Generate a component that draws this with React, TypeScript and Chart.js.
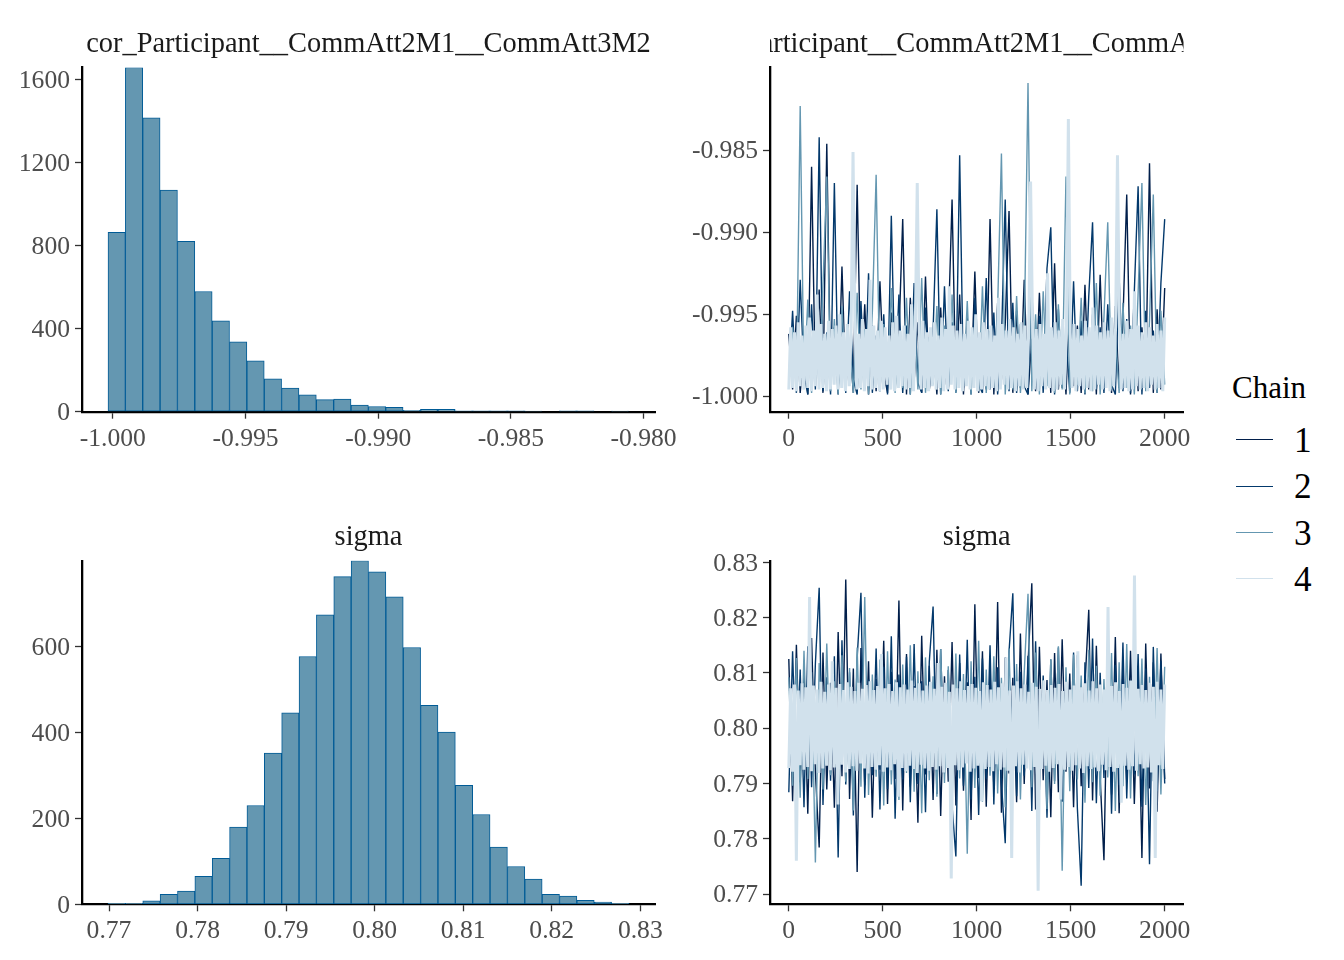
import React, { useEffect, useRef } from "react";
import { Chart, registerables } from "chart.js";

Chart.register(...registerables);

const FONT = "'Liberation Serif', 'Times New Roman', Times, serif";

// ---------- text ----------
const corTitle = "cor_Participant__CommAtt2M1__CommAtt3M2";
const sigmaTitle = "sigma";
const legendTitle = "Chain";
const chainLabels = ["1", "2", "3", "4"];
const chainColors = ["#011f4b", "#03396c", "#6497b1", "#d1e1ec"];

// ---------- histogram of cor ----------
const corBinStart = -1.00018;
const corBinWidth = 0.000654;
const corCounts = [864, 1658, 1416, 1068, 821, 579, 438, 337, 245, 158, 114, 81, 58, 61, 32, 25, 21, 6, 11, 11, 4, 4, 4, 4, 3, 0, 4, 4, 0, 3];
const corHistTicksX = [-1.0, -0.995, -0.99, -0.985, -0.98];
const corHistTicksY = [0, 400, 800, 1200, 1600];

// ---------- histogram of sigma ----------
const sigmaBinStart = 0.76989;
const sigmaBinWidth = 0.001961;
const sigmaCounts = [2, 2, 8, 23, 31, 65, 107, 180, 230, 352, 446, 577, 674, 763, 800, 774, 716, 598, 463, 401, 277, 209, 133, 88, 59, 23, 19, 9, 5, 2];
const sigmaHistTicksX = [0.77, 0.78, 0.79, 0.8, 0.81, 0.82, 0.83];
const sigmaHistTicksY = [0, 200, 400, 600];

// ---------- trace plots (thinned draws over iterations 1..2000) ----------
const traceTicksX = [0, 500, 1000, 1500, 2000];
const corTraceTicksY = [-1.0, -0.995, -0.99, -0.985];
const sigmaTraceTicksY = [0.77, 0.78, 0.79, 0.8, 0.81, 0.82, 0.83];

const corChain1 = [
  -0.9962, -0.9996, -0.9951, -0.9998, -0.9971, -0.9999, -0.9860, -0.9994, -0.9935, -0.9998,
  -0.9846, -0.9992, -0.9958, -0.9999, -0.9921, -0.9995, -0.9966, -0.9998, -0.9871, -0.9993,
  -0.9944, -0.9999, -0.9957, -0.9997, -0.9930, -0.9986, -0.9998, -0.9949, -0.9995, -0.9963,
  -0.9892, -0.9999, -0.9940, -0.9991, -0.9955, -0.9998, -0.9927, -0.9996, -0.9968, -0.9999,
  -0.9946, -0.9993, -0.9959, -0.9880, -0.9997, -0.9938, -0.9999, -0.9952, -0.9994, -0.9924,
  -0.9998, -0.9961, -0.9996, -0.9892, -0.9999, -0.9943, -0.9990, -0.9956, -0.9887, -0.9998,
  -0.9948, -0.9995, -0.9929, -0.9999, -0.9965, -0.9997, -0.9937, -0.9992, -0.9953, -0.9998,
  -0.9919, -0.9996, -0.9960, -0.9999, -0.9941, -0.9994, -0.9957, -0.9998, -0.9932, -0.9996,
  -0.9950, -0.9999, -0.9926, -0.9993, -0.9964, -0.9998, -0.9945, -0.9995, -0.9954, -0.9877,
  -0.9999, -0.9939, -0.9997, -0.9958, -0.9991, -0.9858, -0.9998, -0.9947, -0.9996, -0.9934,
];
const corChain2 = [
  -0.9993, -0.9948, -0.9998, -0.9929, -0.9987, -0.9999, -0.9944, -0.9996, -0.9842, -0.9997,
  -0.9961, -0.9999, -0.9870, -0.9995, -0.9952, -0.9998, -0.9936, -0.9990, -0.9999, -0.9942,
  -0.9996, -0.9925, -0.9998, -0.9963, -0.9997, -0.9950, -0.9999, -0.9890, -0.9994, -0.9938,
  -0.9998, -0.9957, -0.9999, -0.9931, -0.9992, -0.9998, -0.9946, -0.9996, -0.9960, -0.9886,
  -0.9999, -0.9933, -0.9997, -0.9955, -0.9998, -0.9853, -0.9995, -0.9962, -0.9999, -0.9940,
  -0.9993, -0.9998, -0.9928, -0.9996, -0.9949, -0.9999, -0.9966, -0.9880, -0.9997, -0.9943,
  -0.9998, -0.9956, -0.9994, -0.9999, -0.9934, -0.9996, -0.9951, -0.9998, -0.9922, -0.9897,
  -0.9999, -0.9947, -0.9995, -0.9962, -0.9998, -0.9930, -0.9997, -0.9954, -0.9999, -0.9939,
  -0.9894, -0.9996, -0.9958, -0.9998, -0.9944, -0.9993, -0.9999, -0.9927, -0.9997, -0.9953,
  -0.9998, -0.9936, -0.9872, -0.9999, -0.9948, -0.9995, -0.9960, -0.9998, -0.9931, -0.9892,
];
const corChain3 = [
  -0.9990, -0.9958, -0.9997, -0.9823, -0.9995, -0.9941, -0.9998, -0.9963, -0.9994, -0.9932,
  -0.9866, -0.9997, -0.9953, -0.9999, -0.9945, -0.9991, -0.9968, -0.9998, -0.9937, -0.9996,
  -0.9959, -0.9999, -0.9949, -0.9865, -0.9997, -0.9956, -0.9993, -0.9934, -0.9998, -0.9962,
  -0.9995, -0.9940, -0.9999, -0.9951, -0.9996, -0.9928, -0.9998, -0.9964, -0.9993, -0.9945,
  -0.9999, -0.9957, -0.9996, -0.9938, -0.9998, -0.9961, -0.9994, -0.9942, -0.9999, -0.9955,
  -0.9997, -0.9933, -0.9998, -0.9960, -0.9995, -0.9946, -0.9852, -0.9999, -0.9958, -0.9996,
  -0.9939, -0.9998, -0.9965, -0.9809, -0.9997, -0.9950, -0.9999, -0.9936, -0.9994, -0.9962,
  -0.9998, -0.9944, -0.9996, -0.9866, -0.9999, -0.9956, -0.9993, -0.9940, -0.9998, -0.9959,
  -0.9997, -0.9931, -0.9999, -0.9952, -0.9894, -0.9996, -0.9963, -0.9998, -0.9943, -0.9995,
  -0.9957, -0.9999, -0.9937, -0.9870, -0.9997, -0.9954, -0.9877, -0.9998, -0.9948, -0.9993,
];
const corChain4 = [
  -0.9996, -0.9958, -0.9995, -0.9961, -0.9997, -0.9955, -0.9994, -0.9963, -0.9996, -0.9957,
  -0.9995, -0.9952, -0.9997, -0.9960, -0.9994, -0.9938, -0.9996, -0.9956, -0.9995, -0.9962,
  -0.9997, -0.9954, -0.9996, -0.9959, -0.9993, -0.9957, -0.9996, -0.9950, -0.9995, -0.9961,
  -0.9997, -0.9956, -0.9994, -0.9958, -0.9851, -0.9955, -0.9996, -0.9962, -0.9995, -0.9953,
  -0.9997, -0.9959, -0.9994, -0.9929, -0.9996, -0.9957, -0.9995, -0.9960, -0.9997, -0.9954,
  -0.9996, -0.9958, -0.9993, -0.9963, -0.9996, -0.9955, -0.9997, -0.9951, -0.9995, -0.9960,
  -0.9994, -0.9957, -0.9996, -0.9962, -0.9995, -0.9944, -0.9997, -0.9956, -0.9870, -0.9959,
  -0.9996, -0.9954, -0.9995, -0.9961, -0.9997, -0.9958, -0.9994, -0.9955, -0.9996, -0.9963,
  -0.9995, -0.9952, -0.9997, -0.9959, -0.9996, -0.9933, -0.9993, -0.9957, -0.9996, -0.9960,
  -0.9995, -0.9956, -0.9997, -0.9962, -0.9994, -0.9954, -0.9996, -0.9958, -0.9995, -0.9950,
  -0.9997, -0.9961, -0.9996, -0.9955, -0.9994, -0.9959, -0.9996, -0.9957, -0.9995, -0.9963,
  -0.9997, -0.9940, -0.9996, -0.9956, -0.9993, -0.9960, -0.9996, -0.9953, -0.9995, -0.9958,
  -0.9997, -0.9962, -0.9994, -0.9955, -0.9996, -0.9957, -0.9995, -0.9961, -0.9869, -0.9954,
  -0.9996, -0.9959, -0.9997, -0.9956, -0.9994, -0.9962, -0.9996, -0.9925, -0.9995, -0.9958,
  -0.9997, -0.9955, -0.9996, -0.9960, -0.9993, -0.9953, -0.9996, -0.9957, -0.9831, -0.9961,
  -0.9995, -0.9956, -0.9997, -0.9959, -0.9994, -0.9963, -0.9996, -0.9954, -0.9995, -0.9958,
  -0.9997, -0.9946, -0.9996, -0.9957, -0.9993, -0.9961, -0.9996, -0.9955, -0.9995, -0.9960,
  -0.9997, -0.9952, -0.9994, -0.9958, -0.9853, -0.9956, -0.9996, -0.9962, -0.9995, -0.9954,
  -0.9997, -0.9959, -0.9996, -0.9936, -0.9994, -0.9957, -0.9996, -0.9961, -0.9995, -0.9955,
  -0.9997, -0.9958, -0.9993, -0.9963, -0.9996, -0.9956, -0.9995, -0.9960, -0.9997, -0.9952,
];

const sigmaChain1 = [
  0.8125, 0.7868, 0.8151, 0.7902, 0.8098, 0.7845, 0.8163, 0.7921, 0.7784, 0.8137,
  0.7889, 0.8082, 0.7856, 0.8174, 0.7913, 0.8269, 0.7872, 0.8108, 0.7740, 0.8145,
  0.7897, 0.8121, 0.7838, 0.8089, 0.7925, 0.8158, 0.7863, 0.8102, 0.7908, 0.8231,
  0.7851, 0.8134, 0.7894, 0.8076, 0.7829, 0.8167, 0.7916, 0.8113, 0.7870, 0.8142,
  0.7841, 0.8094, 0.7903, 0.8156, 0.7860, 0.8118, 0.7887, 0.8083, 0.7834, 0.8224,
  0.7910, 0.8139, 0.7858, 0.8104, 0.7893, 0.8228, 0.7847, 0.8128, 0.7918, 0.8091,
  0.7866, 0.8171, 0.7899, 0.8115, 0.8262, 0.7853, 0.8147, 0.7906, 0.8087, 0.7839,
  0.8136, 0.7884, 0.8161, 0.7921, 0.8099, 0.7857, 0.8132, 0.7895, 0.8078, 0.8214,
  0.7869, 0.8149, 0.7911, 0.7761, 0.8123, 0.7880, 0.8165, 0.7846, 0.8107, 0.7902,
  0.8140, 0.7863, 0.8096, 0.7765, 0.8153, 0.7891, 0.8119, 0.7849, 0.8135, 0.7908,
];
const sigmaChain2 = [
  0.7884, 0.8139, 0.7912, 0.8106, 0.7857, 0.8148, 0.7893, 0.8117, 0.8254, 0.7861,
  0.8092, 0.7905, 0.8130, 0.7766, 0.8159, 0.7898, 0.8101, 0.7842, 0.8127, 0.8245,
  0.7874, 0.8088, 0.7915, 0.8144, 0.7853, 0.8111, 0.7890, 0.8166, 0.7836, 0.8097,
  0.7907, 0.8129, 0.7866, 0.8152, 0.7899, 0.8085, 0.7848, 0.8120, 0.8220, 0.7881,
  0.8143, 0.7918, 0.8105, 0.7859, 0.7768, 0.8133, 0.7896, 0.8160, 0.7871, 0.8093,
  0.7843, 0.8126, 0.7909, 0.8150, 0.7862, 0.8110, 0.7901, 0.7792, 0.8138, 0.8244,
  0.7877, 0.8102, 0.7914, 0.8131, 0.7850, 0.8157, 0.7888, 0.8095, 0.7838, 0.8124,
  0.7904, 0.8146, 0.7867, 0.8090, 0.7920, 0.8137, 0.7855, 0.7715, 0.8119, 0.7892,
  0.8162, 0.7864, 0.8100, 0.7910, 0.8141, 0.7845, 0.8114, 0.7897, 0.8155, 0.7873,
  0.8086, 0.7916, 0.8134, 0.7858, 0.8108, 0.7754, 0.8147, 0.7886, 0.8122, 0.7900,
];
const sigmaChain3 = [
  0.8092, 0.7896, 0.8127, 0.7874, 0.8140, 0.7908, 0.8101, 0.7757, 0.8118, 0.7889,
  0.8153, 0.7915, 0.8085, 0.7868, 0.8132, 0.7903, 0.8109, 0.7851, 0.8146, 0.7894,
  0.8237, 0.7879, 0.8097, 0.7912, 0.8124, 0.7860, 0.8139, 0.7898, 0.8088, 0.7870,
  0.8115, 0.7919, 0.8150, 0.7885, 0.8103, 0.7846, 0.8128, 0.7906, 0.8094, 0.7876,
  0.8143, 0.7901, 0.8112, 0.7863, 0.8135, 0.7909, 0.8098, 0.7773, 0.8121, 0.7892,
  0.8158, 0.7867, 0.8106, 0.7914, 0.8130, 0.7882, 0.8091, 0.7857, 0.8144, 0.7905,
  0.8116, 0.7871, 0.8100, 0.8243, 0.7893, 0.8137, 0.7917, 0.8087, 0.7854, 0.8125,
  0.7899, 0.8148, 0.7742, 0.8110, 0.7886, 0.8133, 0.7907, 0.8095, 0.7865, 0.8142,
  0.7902, 0.8113, 0.7878, 0.8089, 0.7911, 0.8136, 0.7850, 0.8119, 0.7895, 0.8152,
  0.7873, 0.8104, 0.7913, 0.8126, 0.7861, 0.8093, 0.7904, 0.8145, 0.7880, 0.8111,
];
const sigmaChain4 = [
  0.7928, 0.8072, 0.7921, 0.8079, 0.7760, 0.8068, 0.7933, 0.8081, 0.7925, 0.8074,
  0.7930, 0.8237, 0.7922, 0.8077, 0.7935, 0.8070, 0.7919, 0.8084, 0.7927, 0.8066,
  0.7932, 0.8079, 0.7924, 0.8121, 0.7929, 0.8073, 0.7862, 0.8080, 0.7934, 0.8069,
  0.7920, 0.8083, 0.7926, 0.8075, 0.7931, 0.8067, 0.7923, 0.8082, 0.7936, 0.8071,
  0.7927, 0.8078, 0.7918, 0.8085, 0.7930, 0.8069, 0.7925, 0.8076, 0.7933, 0.8134,
  0.7921, 0.8072, 0.7929, 0.8080, 0.7924, 0.8067, 0.7935, 0.8083, 0.7876, 0.8074,
  0.7928, 0.8079, 0.7922, 0.8070, 0.7932, 0.8086, 0.7926, 0.8073, 0.7919, 0.8081,
  0.7934, 0.8068, 0.7927, 0.8077, 0.7923, 0.8084, 0.7930, 0.8071, 0.7925, 0.8118,
  0.7931, 0.8075, 0.7920, 0.8082, 0.7928, 0.8066, 0.7728, 0.8079, 0.7933, 0.8072,
  0.7924, 0.8085, 0.7929, 0.8069, 0.7936, 0.8076, 0.7921, 0.8080, 0.7927, 0.8073,
  0.7932, 0.8067, 0.7868, 0.8083, 0.7926, 0.8078, 0.7930, 0.8070, 0.7922, 0.8084,
  0.7935, 0.8074, 0.7925, 0.8081, 0.7929, 0.8128, 0.7923, 0.8068, 0.7765, 0.8077,
  0.7931, 0.8085, 0.7920, 0.8072, 0.7934, 0.8079, 0.7927, 0.8066, 0.7924, 0.8082,
  0.7930, 0.8075, 0.7706, 0.8071, 0.7926, 0.8086, 0.7932, 0.8069, 0.7921, 0.8078,
  0.7928, 0.8073, 0.7935, 0.8080, 0.7871, 0.8067, 0.7925, 0.8084, 0.7930, 0.8070,
  0.7923, 0.8077, 0.7933, 0.8139, 0.7927, 0.8074, 0.7919, 0.8081, 0.7931, 0.8068,
  0.7926, 0.8085, 0.7929, 0.8072, 0.7922, 0.8079, 0.7934, 0.8070, 0.7924, 0.8219,
  0.7930, 0.8076, 0.7921, 0.8083, 0.7928, 0.8067, 0.7865, 0.8080, 0.7932, 0.8073,
  0.7925, 0.8086, 0.7931, 0.8276, 0.7923, 0.8071, 0.7935, 0.8078, 0.7927, 0.8069,
  0.7929, 0.8082, 0.7920, 0.8075, 0.7765, 0.8084, 0.7933, 0.8070, 0.7926, 0.8079,
];

const firstIteration = 1;
const lastIteration = 2000;

const corChains = [corChain1, corChain2, corChain3, corChain4];
const sigmaChains = [sigmaChain1, sigmaChain2, sigmaChain3, sigmaChain4];
const chainLineWidths = [1.4, 1.4, 1.4, 3.0];

// ---------- helpers ----------
const TICK_FONT = { family: FONT, size: 25.6 };

function makeAxis(o: {
  min: number;
  max: number;
  ticks: number[];
  fmt: (v: number) => string;
  size: number;
  isX: boolean;
}) {
  return {
    type: "linear" as const,
    min: o.min,
    max: o.max,
    offset: false,
    afterBuildTicks: (s: any) => {
      s.ticks = o.ticks.map((v) => ({ value: v }));
    },
    afterFit: (s: any) => {
      if (o.isX) s.height = o.size;
      else s.width = o.size;
    },
    grid: {
      display: true,
      offset: false,
      drawOnChartArea: false,
      drawTicks: true,
      tickLength: 7,
      tickWidth: 1.3,
      tickColor: "#333333",
      color: "#333333",
    },
    border: { display: true, color: "#000000", width: 2.3 },
    ticks: {
      color: "#4d4d4d",
      font: TICK_FONT,
      padding: 5,
      labelOffset: o.isX ? 0 : 1.5,
      maxRotation: 0,
      minRotation: 0,
      autoSkip: false,
      callback: (v: any) => o.fmt(Number(v)),
    },
  };
}

function stripTitle(text: string, baseline: number) {
  return {
    id: "stripTitle",
    afterDraw(chart: any) {
      const { ctx, chartArea } = chart;
      ctx.save();
      ctx.beginPath();
      ctx.rect(chartArea.left, 0, chartArea.right - chartArea.left, chartArea.top);
      ctx.clip();
      ctx.font = `28.4px ${FONT}`;
      ctx.fillStyle = "#1a1a1a";
      ctx.textAlign = "center";
      ctx.textBaseline = "alphabetic";
      ctx.fillText(text, (chartArea.left + chartArea.right) / 2, baseline);
      ctx.restore();
    },
  };
}

type Geo = {
  left: number;
  top: number;
  width: number;
  height: number;
  padTop: number;
  padRight: number;
  yWidth: number;
  xHeight: number;
  titleBaseline: number;
};

function histConfig(
  geo: Geo,
  title: string,
  binStart: number,
  binWidth: number,
  counts: number[],
  xMin: number,
  xMax: number,
  xTicks: number[],
  xFmt: (v: number) => string,
  yTicks: number[]
) {
  return {
    type: "bar" as const,
    data: {
      datasets: [
        {
          data: counts.map((c, i) => ({ x: binStart + (i + 0.5) * binWidth, y: c })),
          backgroundColor: "#6497b1",
          borderColor: "#005b96",
          borderWidth: 1,
          borderSkipped: false,
          barPercentage: 1,
          categoryPercentage: 1,
          grouped: false,
        },
      ],
    },
    options: {
      animation: false as const,
      responsive: false,
      maintainAspectRatio: false,
      devicePixelRatio: 1,
      layout: { padding: { top: geo.padTop, right: geo.padRight, left: 0, bottom: 0 } },
      plugins: { legend: { display: false }, tooltip: { enabled: false }, title: { display: false } },
      scales: {
        x: makeAxis({ min: xMin, max: xMax, ticks: xTicks, fmt: xFmt, size: geo.xHeight, isX: true }),
        y: makeAxis({
          min: 0,
          max: Math.max(...counts),
          ticks: yTicks,
          fmt: (v) => String(v),
          size: geo.yWidth,
          isX: false,
        }),
      },
    },
    plugins: [stripTitle(title, geo.titleBaseline)],
  };
}

function traceConfig(
  geo: Geo,
  title: string,
  chains: number[][],
  yMin: number,
  yMax: number,
  yTicks: number[],
  yFmt: (v: number) => string
) {
  return {
    type: "line" as const,
    data: {
      datasets: chains.map((vals, c) => ({
        label: chainLabels[c],
        data: vals.map((v, i) => ({
          x: firstIteration + (i * (lastIteration - firstIteration)) / (vals.length - 1),
          y: v,
        })),
        borderColor: chainColors[c],
        borderWidth: chainLineWidths[c],
        borderJoinStyle: "bevel" as const,
        pointRadius: 0,
        tension: 0,
        fill: false,
        order: chains.length - 1 - c,
      })),
    },
    options: {
      animation: false as const,
      responsive: false,
      maintainAspectRatio: false,
      devicePixelRatio: 1,
      layout: { padding: { top: geo.padTop, right: geo.padRight, left: 0, bottom: 0 } },
      plugins: { legend: { display: false }, tooltip: { enabled: false }, title: { display: false } },
      scales: {
        x: makeAxis({
          min: -99,
          max: 2100,
          ticks: traceTicksX,
          fmt: (v) => String(v),
          size: geo.xHeight,
          isX: true,
        }),
        y: makeAxis({ min: yMin, max: yMax, ticks: yTicks, fmt: yFmt, size: geo.yWidth, isX: false }),
      },
    },
    plugins: [stripTitle(title, geo.titleBaseline)],
  };
}

function Panel({ geo, make }: { geo: Geo; make: () => any }) {
  const ref = useRef<HTMLCanvasElement>(null);
  useEffect(() => {
    const chart = new Chart(ref.current as HTMLCanvasElement, make());
    return () => chart.destroy();
  }, []);
  return (
    <canvas
      ref={ref}
      width={geo.width}
      height={geo.height}
      style={{ position: "absolute", left: geo.left, top: geo.top, width: geo.width, height: geo.height }}
    />
  );
}

const geoTL: Geo = { left: 0, top: 0, width: 690, height: 470, padTop: 67.5, padRight: 35, yWidth: 82, xHeight: 58.3, titleBaseline: 51.7 };
const geoTR: Geo = { left: 680, top: 0, width: 520, height: 470, padTop: 67.5, padRight: 16.5, yWidth: 90, xHeight: 58.3, titleBaseline: 51.7 };
const geoBL: Geo = { left: 0, top: 480, width: 690, height: 480, padTop: 80.7, padRight: 35, yWidth: 82, xHeight: 55.7, titleBaseline: 64.7 };
const geoBR: Geo = { left: 680, top: 480, width: 520, height: 480, padTop: 80.7, padRight: 16.5, yWidth: 90, xHeight: 55.7, titleBaseline: 64.7 };

const fmt3 = (v: number) => v.toFixed(3);
const fmt2 = (v: number) => v.toFixed(2);

const legendBaselines = [452.7, 498.9, 545.1, 591.3];
const legendLineY = [439.3, 486.3, 532.2, 578.2];

export default function App() {
  return (
    <div
      style={{
        position: "absolute",
        left: 0,
        top: 0,
        width: 1344,
        height: 960,
        background: "#ffffff",
        overflow: "hidden",
        fontFamily: FONT,
      }}
    >
      <Panel
        geo={geoTL}
        make={() =>
          histConfig(geoTL, corTitle, corBinStart, corBinWidth, corCounts, -1.00116, -0.97957, corHistTicksX, fmt3, corHistTicksY)
        }
      />
      <Panel
        geo={geoTR}
        make={() => traceConfig(geoTR, corTitle, corChains, -1.00095, -0.97995, corTraceTicksY, fmt3)}
      />
      <Panel
        geo={geoBL}
        make={() =>
          histConfig(geoBL, sigmaTitle, sigmaBinStart, sigmaBinWidth, sigmaCounts, 0.76695, 0.83166, sigmaHistTicksX, fmt2, sigmaHistTicksY)
        }
      />
      <Panel
        geo={geoBR}
        make={() => traceConfig(geoBR, sigmaTitle, sigmaChains, 0.76814, 0.83029, sigmaTraceTicksY, fmt2)}
      />
      <div
        style={{
          position: "absolute",
          left: 1232,
          top: 398.3 - 0.8375 * 31,
          fontSize: 31,
          lineHeight: 1,
          color: "#000000",
          whiteSpace: "nowrap",
        }}
      >
        {legendTitle}
      </div>
      {chainLabels.map((lab, i) => (
        <React.Fragment key={lab}>
          <div
            style={{
              position: "absolute",
              left: 1236,
              top: legendLineY[i] - 0.6,
              width: 37,
              height: 1.2,
              background: chainColors[i],
            }}
          />
          <div
            style={{
              position: "absolute",
              left: 1294,
              top: legendBaselines[i] - 0.8375 * 35.2,
              fontSize: 35.2,
              lineHeight: 1,
              color: "#000000",
            }}
          >
            {lab}
          </div>
        </React.Fragment>
      ))}
    </div>
  );
}
